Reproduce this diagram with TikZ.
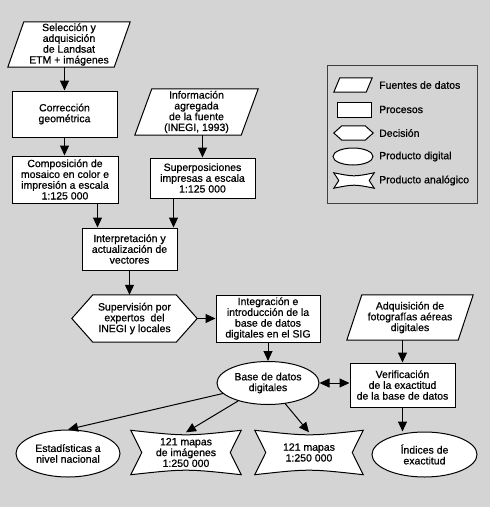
\documentclass[tikz,border=0pt]{standalone}
\usepackage{fontspec}
\setmainfont{Liberation Sans}[FakeBold=0.7]
\usetikzlibrary{shapes.geometric,arrows.meta,calc,backgrounds}
\definecolor{bggray}{RGB}{212,212,212}
\newcommand\drawparal[2]{\draw[shp] (#1.south west) -- ($(#1.north west)+(#2,0)$) -- (#1.north east) -- ($(#1.south east)+(-#2,0)$) -- cycle;}
\newcommand\drawhexa[2]{\draw[shp] (#1.west) -- ($(#1.north west)+(#2,0)$) -- ($(#1.north east)+(-#2,0)$) -- (#1.east) -- ($(#1.south east)+(-#2,0)$) -- ($(#1.south west)+(#2,0)$) -- cycle;}
\newcommand\drawbow[3]{\draw[shp] (#1.north west) .. controls ($(#1.north)+(0,#2)$) .. (#1.north east) -- ($(#1.east)+(-#3,0)$) -- (#1.south east) .. controls ($(#1.south)+(0,-#2)$) .. (#1.south west) -- ($(#1.west)+(#3,0)$) -- cycle;}
\begin{document}
\begin{tikzpicture}[x=1pt,y=-1pt,
  txt/.style={align=center,font=\fontsize{10.5}{10.8}\selectfont,inner sep=0pt},
  box/.style={txt,rectangle,draw=black,fill=white,line width=1pt},
  frame/.style={txt,rectangle,draw=none},
  shp/.style={draw=black,fill=white,line width=1pt},
  ell/.style={txt,ellipse,draw=black,fill=white,line width=1pt},
  arr/.style={line width=1pt,-{Triangle[length=10pt,width=9pt]}},
  darr/.style={line width=1pt,{Triangle[length=10pt,width=9pt]}-{Triangle[length=10pt,width=9pt]}},
  ]
\useasboundingbox (0,0) rectangle (490,507);

% main nodes
\node[frame,minimum width=122pt,minimum height=45pt] (src) at (69,44.5) {Selección y\\adquisición\\de Landsat\\ETM + imágenes};
\node[box,minimum width=105pt,minimum height=46pt] (corr) at (64.5,114) {Corrección\\geométrica};
\node[box,minimum width=106pt,minimum height=47pt] (comp) at (65,179.5) {Composición de\\mosaico en color e\\impresión a escala\\1:125 000};
\node[frame,minimum width=123pt,minimum height=46pt] (info) at (196.5,112) {Información\\agregada\\de la fuente\\(INEGI, 1993)};
\node[box,minimum width=105pt,minimum height=40pt] (sup) at (202.5,178) {Superposiciones\\impresas a escala\\1:125 000};
\node[box,minimum width=95pt,minimum height=42pt] (interp) at (129.5,249) {Interpretación y\\actualización de\\vectores};
\node[frame,minimum width=125pt,minimum height=47pt] (hex) at (134.5,318.5) {Supervisión por\\expertos\ \ del\\INEGI y locales};
\node[box,minimum width=104pt,minimum height=47pt] (integ) at (268,318.5) {Integración e\\introducción de la\\base de datos\\digitales en el SIG};
\node[frame,minimum width=126pt,minimum height=45pt] (adq) at (410,317.5) {Adquisición de\\fotografías aéreas\\digitales};
\node[box,minimum width=105pt,minimum height=44pt] (verif) at (402.5,385) {Verificación\\de la exactitud\\de la base de datos};
\node[ell,minimum width=102pt,minimum height=43pt] (base) at (268,383) {Base de datos\\digitales};
\node[ell,minimum width=104pt,minimum height=47pt] (est) at (68,453.5) {Estadísticas a\\nivel nacional};
\node[frame,minimum width=110pt,minimum height=44pt] (bowa) at (186,452.5) {121 mapas\\de imágenes\\1:250 000};
\node[frame,minimum width=108pt,minimum height=44pt] (bowb) at (309,452.5) {121 mapas\\1:250 000};
\node[ell,minimum width=105pt,minimum height=45pt] (ind) at (424.5,454.5) {Índices de\\exactitud};

% legend
\node[draw=black!75,line width=1pt,rectangle,minimum width=150pt,minimum height=138pt] (legend) at (402,134) {};
\node[frame,minimum width=38pt,minimum height=14pt] (lp) at (353,85) {};
\node[box,minimum width=34pt,minimum height=15pt] (lr) at (354,109.5) {};
\node[frame,minimum width=39pt,minimum height=14pt] (lh) at (353.5,133) {};
\node[ell,minimum width=40pt,minimum height=17pt] (le) at (353,156.5) {};
\node[frame,minimum width=40pt,minimum height=15pt] (lb) at (354,180.5) {};
\node[txt,anchor=west] (tp) at (379,85) {Fuentes de datos};
\node[txt,anchor=west] (tr) at (379,109.5) {Procesos};
\node[txt,anchor=west] (th) at (379,133) {Decisión};
\node[txt,anchor=west] (te) at (379,156.5) {Producto digital};
\node[txt,anchor=west] (tb) at (379,180.5) {Producto analógico};

\begin{scope}[on background layer]
  \fill[bggray] (0,0) rectangle (490,507);
  \drawparal{src}{16}
  \drawparal{info}{17}
  \drawparal{adq}{15}
  \drawhexa{hex}{21}
  \drawbow{bowa}{6}{11}
  \drawbow{bowb}{6}{11}
  \drawparal{lp}{6}
  \drawhexa{lh}{8}
  \drawbow{lb}{4}{5}
\end{scope}

% connectors
\coordinate (i1) at ($(interp.north west)+(16,0)$);
\coordinate (i2) at ($(interp.north east)+(-4,0)$);
\draw[arr] (src.south -| corr) -- (corr.north);
\draw[arr] (corr.south) -- (corr.south |- comp.north);
\draw[arr] (info.south -| sup) -- (sup.north);
\draw[arr] (i1 |- comp.south) -- (i1);
\draw[arr] (i2 |- sup.south) -- (i2);
\draw[arr] (interp.south) -- (interp.south |- hex.north);
\draw[arr] (hex.east) -- (integ.west);
\draw[arr] (integ.south) -- (base.north);
\draw[arr] (adq.south -| verif) -- (verif.north);
\draw[darr] (base.east) -- (base.east -| verif.west);
\draw[arr] (verif.south) -- (verif.south |- ind.north);
\draw[arr] (base) -- (est.north);
\draw[arr] (base) -- ($(bowa.north)+(0,2)$);
\draw[arr] (base) -- ($(bowb.north)+(0,2)$);
\end{tikzpicture}
\end{document}
